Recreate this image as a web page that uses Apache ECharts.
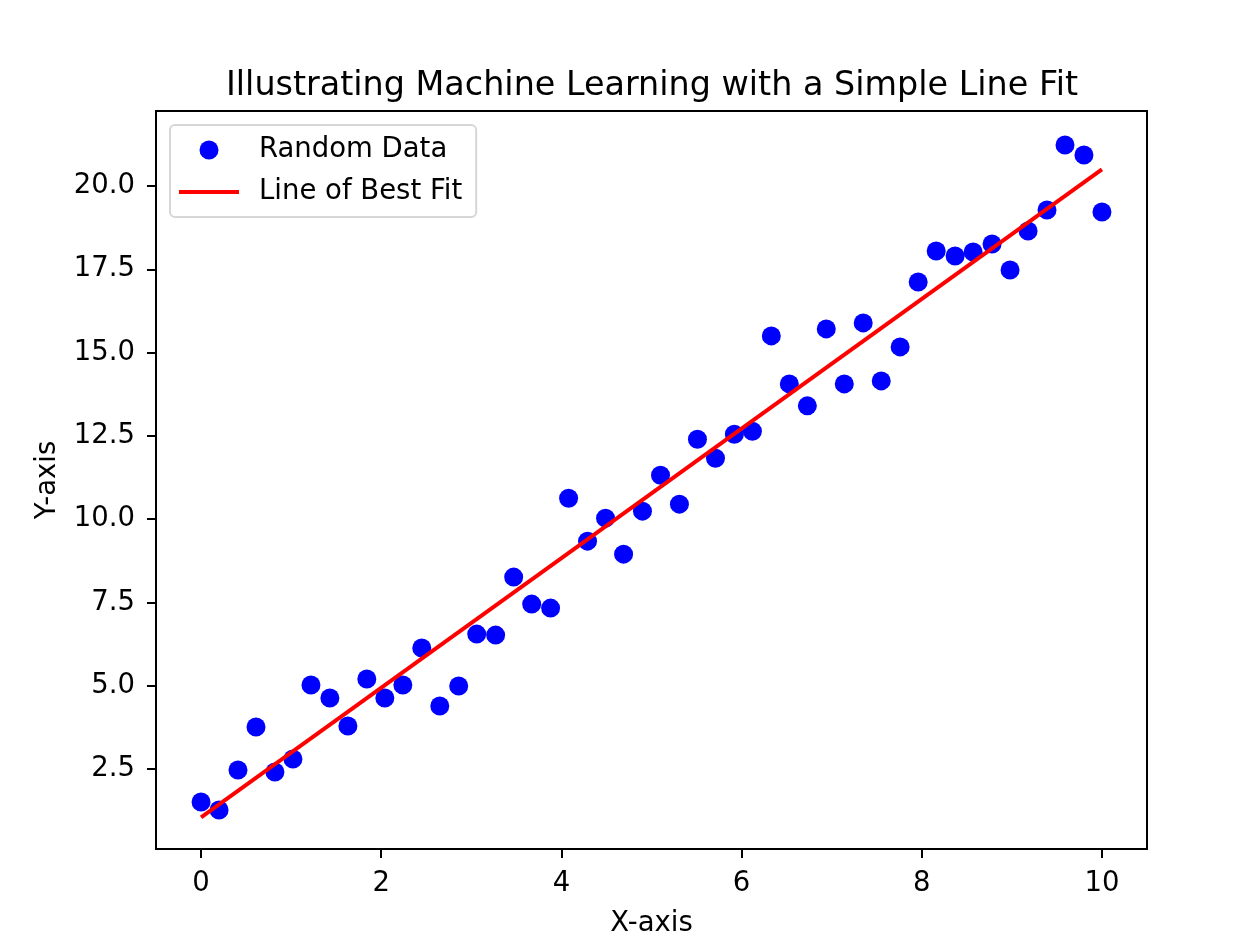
<!DOCTYPE html>
<html>
<head>
<meta charset="utf-8">
<script src="https://cdn.jsdelivr.net/npm/echarts@6/dist/echarts.min.js"></script>
<style>
  html, body { margin: 0; padding: 0; background: #fff; }
  #chart { width: 1236px; height: 946px; }
</style>
</head>
<body>
<div id="chart"></div>
<script>
// 散点数据
var xData = [0.00, 0.20, 0.41, 0.61, 0.82, 1.02, 1.22, 1.43, 1.63, 1.84,
             2.04, 2.24, 2.45, 2.65, 2.86, 3.06, 3.27, 3.47, 3.67, 3.88,
             4.08, 4.29, 4.49, 4.69, 4.90, 5.10, 5.31, 5.51, 5.71, 5.92,
             6.12, 6.33, 6.53, 6.73, 6.94, 7.14, 7.35, 7.55, 7.76, 7.96,
             8.16, 8.37, 8.57, 8.78, 8.98, 9.18, 9.39, 9.59, 9.80, 10.00];
var yData = [1.51, 1.27, 2.47, 3.76, 2.41, 2.80, 5.02, 4.63, 3.79, 5.20,
             4.63, 5.02, 6.13, 4.39, 4.99, 6.55, 6.52, 8.26, 7.45, 7.33,
             10.63, 9.34, 10.03, 8.95, 10.24, 11.32, 10.45, 12.40, 11.83, 12.55,
             12.64, 15.50, 14.06, 13.40, 15.71, 14.06, 15.89, 14.15, 15.17, 17.12,
             18.05, 17.90, 18.02, 18.26, 17.48, 18.65, 19.28, 21.23, 20.93, 19.22];

// 拟合直线端点
var fitX = [0, 10];
var fitY = [1.05, 20.50];

// 刻度
var xTicks = [0, 2, 4, 6, 8, 10];
var yTicks = [2.5, 5.0, 7.5, 10.0, 12.5, 15.0, 17.5, 20.0];

var FONT = 'DejaVu Sans';
var FS = 27.5;

var scatterPts = xData.map(function (x, i) { return [x, yData[i]]; });
var linePts = fitX.map(function (x, i) { return [x, fitY[i]]; });

var chart = echarts.init(document.getElementById('chart'));
chart.setOption({
    animation: false,
    textStyle: { fontFamily: FONT },
    title: {
        text: 'Illustrating Machine Learning with a Simple Line Fit',
        left: 647,
        textAlign: 'center',
        top: 65,
        textStyle: { fontFamily: FONT, fontSize: 33.4, fontWeight: 'normal', color: '#000' }
    },
    legend: {
        orient: 'vertical',
        left: 170,
        top: 125,
        padding: [10, 14, 10, 9],
        itemWidth: 60,
        itemHeight: 19,
        itemGap: 12,
        backgroundColor: '#fff',
        borderColor: '#d6d6d6',
        borderWidth: 2,
        borderRadius: 5,
        textStyle: { fontFamily: FONT, fontSize: FS, color: '#000', lineHeight: 30, padding: [0, 0, 0, 15] },
        data: [
            { name: 'Random Data', icon: 'circle' },
            { name: 'Line of Best Fit', icon: 'path://M0,0H60V4H0Z' }
        ]
    },
    grid: {
        left: 156,
        top: 111,
        width: 991,
        height: 738,
        show: true,
        borderColor: '#000',
        borderWidth: 2,
        containLabel: false
    },
    xAxis: {
        type: 'value',
        min: -0.5,
        max: 10.5,
        name: 'X-axis',
        nameLocation: 'middle',
        nameGap: 61,
        nameTextStyle: { fontFamily: FONT, fontSize: FS, color: '#000', verticalAlign: 'top' },
        axisLine: { show: true, onZero: false, lineStyle: { color: '#000', width: 2 } },
        axisTick: { show: true, length: 9, lineStyle: { color: '#000', width: 2 }, customValues: xTicks },
        axisLabel: { fontFamily: FONT, fontSize: FS, color: '#000', margin: 21, customValues: xTicks,
            formatter: function (v) { return String(v); } },
        splitLine: { show: false }
    },
    yAxis: {
        type: 'value',
        min: 0.1,
        max: 22.25,
        name: 'Y-axis',
        nameLocation: 'middle',
        nameGap: 94,
        nameTextStyle: { fontFamily: FONT, fontSize: FS, color: '#000' },
        axisLine: { show: true, onZero: false, lineStyle: { color: '#000', width: 2 } },
        axisTick: { show: true, length: 9, lineStyle: { color: '#000', width: 2 }, customValues: yTicks },
        axisLabel: { fontFamily: FONT, fontSize: FS, color: '#000', margin: 21, customValues: yTicks,
            formatter: function (v) { return v.toFixed(1); } },
        splitLine: { show: false }
    },
    series: [
        {
            name: 'Random Data',
            type: 'scatter',
            symbol: 'circle',
            symbolSize: 19,
            itemStyle: { color: '#0000ff', opacity: 1 },
            data: scatterPts
        },
        {
            name: 'Line of Best Fit',
            type: 'line',
            symbol: 'none',
            lineStyle: { color: '#ff0000', width: 4 },
            itemStyle: { color: '#ff0000' },
            data: linePts
        }
    ]
});
</script>
</body>
</html>
